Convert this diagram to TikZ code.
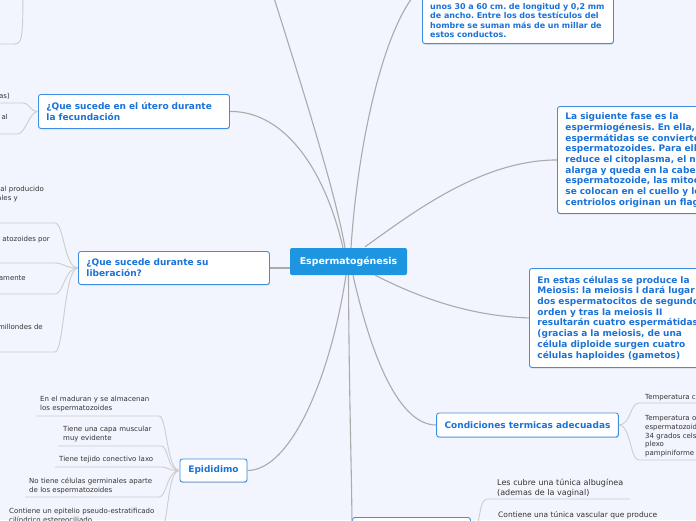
\documentclass[tikz,border=0pt]{standalone}
\usepackage{fontspec}
\setmainfont{DejaVu Sans}
\usetikzlibrary{calc,shadows}
\definecolor{bg}{HTML}{F2F5FD}
\definecolor{tblue}{HTML}{1B72D8}
\definecolor{bblue}{HTML}{3D8FE3}
\definecolor{cfill}{HTML}{1E95E0}
\definecolor{mline}{HTML}{ABABAB}
\definecolor{cline}{HTML}{CDCDCD}
\definecolor{ctxt}{HTML}{333333}
\newcommand{\mmTopicFont}{\fontsize{9}{10.7}\selectfont\bfseries}
\newcommand{\mmChildFont}{\fontsize{7}{8.8}\selectfont}
\frenchspacing
\begin{document}
\frenchspacing
\begin{tikzpicture}[x=1pt,y=-1pt,
  topic/.style={draw=bblue, line width=0.9pt, fill=white, rounded corners=2.5pt,
    text=tblue, font=\mmTopicFont, align=left, inner xsep=8pt, inner ysep=0pt,
    drop shadow={shadow xshift=0.4pt, shadow yshift=-0.9pt, opacity=0.18, fill=black}},
  cen/.style={fill=cfill, rounded corners=2pt, text=white,
    font=\fontsize{9.4}{11}\selectfont\bfseries, minimum width=117pt, minimum height=27pt, inner sep=0pt},
  ctext/.style={text=ctxt, font=\mmChildFont, inner sep=0pt},
  cblock/.style={ctext, text width=#1, align=left, anchor=base west},
  mainline/.style={draw=mline, line width=1.1pt},
  childline/.style={draw=cline, line width=0.9pt}]
\useasboundingbox (0,0) rectangle (696,520);
\fill[bg] (0,0) rectangle (696,520);
\clip (0,0) rectangle (696,520);

% ---------- main nodes ----------
\node[cen] (cen) at (348.5,261.5) {Espermatogénesis};
\node[topic, text width=175pt, minimum height=34pt, anchor=north west] (ut) at (38,94)
  {¿Que sucede en el útero durante\\la fecundación};
\node[topic, text width=175pt, minimum height=33pt, anchor=north west] (lib) at (78,251)
  {¿Que sucede durante su\\liberación?};
\node[topic, align=center, minimum width=67pt, minimum height=23pt] (ep) at (213.5,470.5) {Epididimo};
\node[topic, align=center, minimum width=181pt, minimum height=24pt] (cond) at (527.5,425)
  {Condiciones termicas adecuadas};
\node[topic, text width=230pt, minimum height=107pt, anchor=north west] (sig) at (557,106)
  {La siguiente fase es la\\espermiogénesis. En ella, las\\espermátidas se convierten en\\espermatozoides. Para ello se\\reduce el citoplasma, el núcleo se\\alarga y queda en la cabeza del\\espermatozoide, las mitocondrias\\se colocan en el cuello y los\\centriolos originan un flagelo.};
\node[topic, text width=230pt, minimum height=99pt, anchor=north west] (est) at (529,268)
  {En estas células se produce la\\Meiosis: la meiosis I dará lugar a\\dos espermatocitos de segundo\\orden y tras la meiosis II\\resultarán cuatro espermátidas\\(gracias a la meiosis, de una\\célula diploide surgen cuatro\\células haploides (gametos)};
\node[topic, minimum width=191pt, minimum height=114pt, anchor=south west] (trbox) at (422,44) {};
\node[font=\fontsize{8}{9.2}\selectfont\bfseries, text=tblue, text width=185pt, align=left,
  anchor=base west, inner sep=0pt] (trtext) at (430,9.6)
  {unos 30 a 60 cm. de longitud y 0,2 mm\\de ancho. Entre los dos testículos del\\hombre se suman más de un millar de\\estos conductos.};
\node[topic, minimum width=118pt, minimum height=30pt, anchor=north west] (bot) at (352,517) {};

% ---------- main connectors ----------
\coordinate (tlpar) at (262,-40);
\draw[mainline] ($(cen.north)+(-3.5,0)$) .. controls (335,190) and (300,80) .. (tlpar);
\draw[mainline] ($(cen.north)+(-5.5,0)$) .. controls (325,170) and (285,111) .. (ut.east);
\draw[mainline] ($(cen.north)+(2.5,0)$) .. controls (358,140) and (385,20) .. (trbox.west);
\draw[mainline] ($(cen.north)+(16.5,-1)$) .. controls (410,215) and (480,160) .. (sig.west);
\draw[mainline] ($(cen.south)+(26.5,0)$) .. controls (420,298) and (470,316) .. (est.west);
\draw[mainline] ($(cen.south)+(4.5,0)$) .. controls (372,360) and (400,425) .. (cond.west);
\draw[mainline] (cen.south) .. controls (349,400) and (352,480) .. (bot.west);
\draw[mainline] ($(cen.south)+(-2.5,0)$) .. controls (330,380) and (290,470.5) .. (ep.east);
\draw[mainline] (lib.east) -- (lib.east -| cen.west);

% ---------- top-left orphan branch ----------
\coordinate (tlp) at (23,-30);
\coordinate (tle) at (12,44);
\coordinate (tls) at (-5,44);
\draw[childline] (tlp) .. controls (23,44) and (23,44) .. (tle) -- (tls);

% ---------- children of utero ----------
\coordinate (u1e) at (22,103); \coordinate (u1s) at (-5,103);
\coordinate (u2e) at (17,134); \coordinate (u2s) at (-5,134);
\draw[childline] (ut.west) .. controls ($(ut.west)+(-9,0)$) and ($(u1e)+(9,0)$) .. (u1e) -- (u1s);
\draw[childline] (ut.west) .. controls ($(ut.west)+(-9,0)$) and ($(u2e)+(9,0)$) .. (u2e) -- (u2s);
\node[ctext, anchor=base east] (u1) at (10,98.5) {as)};
\node[ctext, anchor=base east] (u2) at (8,119.5) {al};

% ---------- children of liberacion ----------
\coordinate (f1e) at (55,223); \coordinate (f1s) at (-5,223);
\coordinate (f2e) at (55,263); \coordinate (f2s) at (-5,263);
\coordinate (f3e) at (55,294); \coordinate (f3s) at (-5,294);
\coordinate (f4e) at (55,352); \coordinate (f4s) at (-5,352);
\foreach \k in {f1,f2,f3,f4}{
  \draw[childline] (lib.west) .. controls ($(lib.west)+(-14,0)$) and ($(\k e)+(9,0)$) .. (\k e) -- (\k s);
}
\node[ctext, anchor=base east] (f1a) at (44,191.5) {al producido};
\node[ctext, anchor=base east] (f1b) at (18,200.5) {ales y};
\node[ctext, anchor=base east] (f2) at (50,241.5) {atozoides por};
\node[ctext, anchor=base east] (f3) at (26,280.5) {amente};
\node[ctext, anchor=base east] (f4) at (43,329.5) {millondes de};

% ---------- children of epididimo ----------
\coordinate (e1e) at (159,416); \coordinate (e1s) at (36,416);
\coordinate (e2e) at (161,446); \coordinate (e2s) at (58,446);
\coordinate (e3e) at (161,467); \coordinate (e3s) at (55,467);
\coordinate (e4e) at (159,497); \coordinate (e4s) at (25,497);
\coordinate (e5e) at (161,527); \coordinate (e5s) at (5,527);
\foreach \k in {e1,e2,e3,e4,e5}{
  \draw[childline] (ep.west) .. controls ($(ep.west)+(-13,0)$) and ($(\k e)+(8,0)$) .. (\k e) -- (\k s);
}
\node[cblock=150pt] (e1) at (40,401.5) {En el maduran y se almacenan\\los espermatozoides};
\node[cblock=150pt] (e2) at (63,431.5) {Tiene una capa muscular\\muy evidente};
\node[cblock=150pt] (e3) at (59,461.5) {Tiene tejido conectivo laxo};
\node[cblock=150pt] (e4) at (29,483.5) {No tiene células germinales aparte\\de los espermatozoides};
\node[cblock=160pt] (e5) at (9,513.5) {Contiene un epitelio pseudo-estratificado\\cilíndrico estereociliado};

% ---------- children of condiciones ----------
\coordinate (k1e) at (639,403); \coordinate (k1s) at (700,403);
\coordinate (k2e) at (639,460); \coordinate (k2s) at (700,460);
\foreach \k in {k1,k2}{
  \draw[childline] (cond.east) .. controls ($(cond.east)+(12,0)$) and ($(\k e)+(-9,0)$) .. (\k e) -- (\k s);
}
\node[ctext, anchor=base west] (k1) at (645,399.5) {Temperatura c};
\node[cblock=80pt] (k2) at (645,420.5) {Temperatura o\\espermatozoid\\34 grados cels\\plexo\\pampiniforme};

% ---------- children of bottom topic ----------
\coordinate (b1e) at (487,499); \coordinate (b1s) at (630,499);
\coordinate (b2e) at (487,537); \coordinate (b2s) at (640,537);
\foreach \k in {b1,b2}{
  \draw[childline] (bot.east) .. controls ($(bot.east)+(10,0)$) and ($(\k e)+(-9,0)$) .. (\k e) -- (\k s);
}
\node[text=ctxt, font=\fontsize{8}{10}\selectfont, inner sep=0pt, text width=150pt, align=left,
  anchor=base west] (b1) at (497,485) {Les cubre una túnica albugínea\\(ademas de la vaginal)};
\node[text=ctxt, font=\fontsize{7.5}{9.5}\selectfont, inner sep=0pt, anchor=base west] (b2) at (498,517.7)
  {Contiene una túnica vascular que produce};
\end{tikzpicture}
\end{document}
